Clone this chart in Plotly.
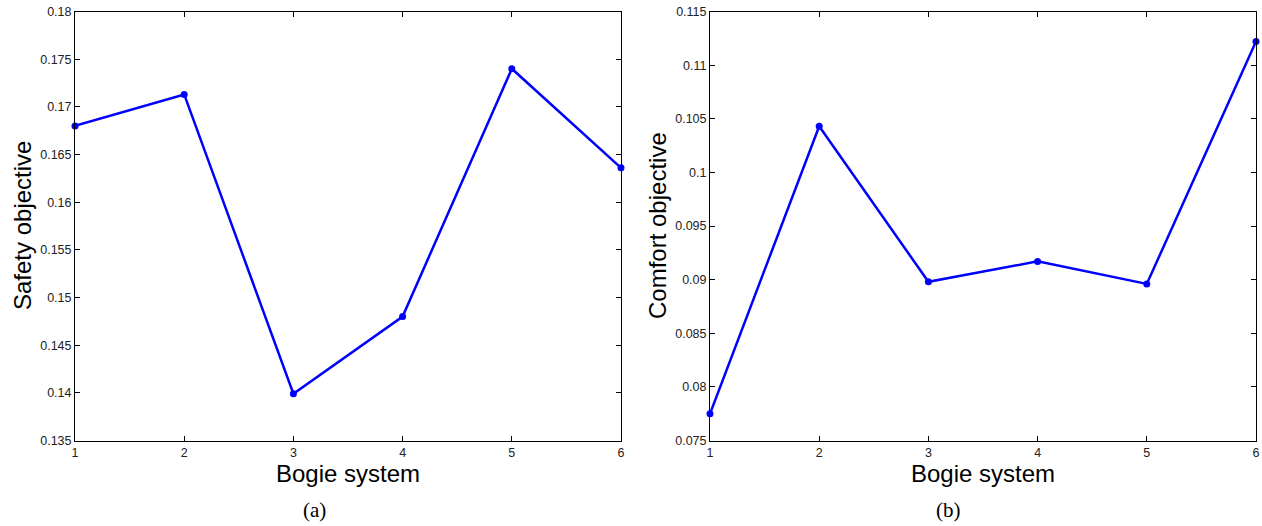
import plotly.graph_objects as go
from plotly.subplots import make_subplots

bogie = [1, 2, 3, 4, 5, 6]
safety = [0.1680, 0.1713, 0.1399, 0.1480, 0.1740, 0.1636]
comfort = [0.0775, 0.1043, 0.0898, 0.0917, 0.0896, 0.1122]
safety_ticks = [0.135, 0.14, 0.145, 0.15, 0.155, 0.16, 0.165, 0.17, 0.175, 0.18]
comfort_ticks = [0.075, 0.08, 0.085, 0.09, 0.095, 0.1, 0.105, 0.11, 0.115]

W, H = 1262, 526
fig = make_subplots(rows=1, cols=2)
blue = "#0000FF"
fig.add_trace(go.Scatter(x=bogie, y=safety, mode="lines+markers",
                         line=dict(color=blue, width=2.5),
                         marker=dict(color=blue, size=7), showlegend=False, cliponaxis=False), 1, 1)
fig.add_trace(go.Scatter(x=bogie, y=comfort, mode="lines+markers",
                         line=dict(color=blue, width=2.5),
                         marker=dict(color=blue, size=7), showlegend=False, cliponaxis=False), 1, 2)

ydom = [1 - 440.5 / H, 1 - 11.5 / H]
axis_common = dict(showline=True, linecolor="black", linewidth=1, mirror="ticks",
                   ticks="inside", ticklen=5, tickcolor="black", showgrid=False, zeroline=False,
                   automargin=False,
                   tickfont=dict(family="Arial", size=12.5, color="#222"))
fig.update_xaxes(**axis_common, range=[1, 6], tickvals=bogie, ticktext=[str(b) for b in bogie])
fig.update_layout(
    xaxis=dict(domain=[75 / W, 621 / W]),
    xaxis2=dict(domain=[710 / W, 1256 / W]),
)
fig.update_yaxes(**axis_common)
fig.update_layout(
    yaxis=dict(domain=ydom, range=[0.135, 0.18], tickvals=safety_ticks,
               ticktext=[f"{t:g}" for t in safety_ticks]),
    yaxis2=dict(domain=ydom, range=[0.075, 0.115], tickvals=comfort_ticks,
                ticktext=[f"{t:g}" for t in comfort_ticks]),
)

ann = []
def add(text, x, y, size, family="Arial", angle=0):
    ann.append(dict(text=text, x=x / W, y=1 - y / H, xref="paper", yref="paper",
                    showarrow=False, font=dict(family=family, size=size, color="black"),
                    textangle=angle, xanchor="center", yanchor="middle"))
add("Bogie system", 348, 473, 24)
add("Bogie system", 983, 473, 24)
add("Safety objective", 22, 226, 24, angle=-90)
add("Comfort objective", 657, 226, 24, angle=-90)
add("(a)", 314, 510, 21, family="Liberation Serif")
add("(b)", 948, 510, 21, family="Liberation Serif")

fig.update_layout(width=W, height=H, margin=dict(l=0, r=0, t=0, b=0, autoexpand=False),
                  paper_bgcolor="white", plot_bgcolor="white", annotations=ann)
fig.write_html("out.html", config={"displayModeBar": False},
               post_script="document.body.style.margin='0';document.body.style.overflow='hidden';")
